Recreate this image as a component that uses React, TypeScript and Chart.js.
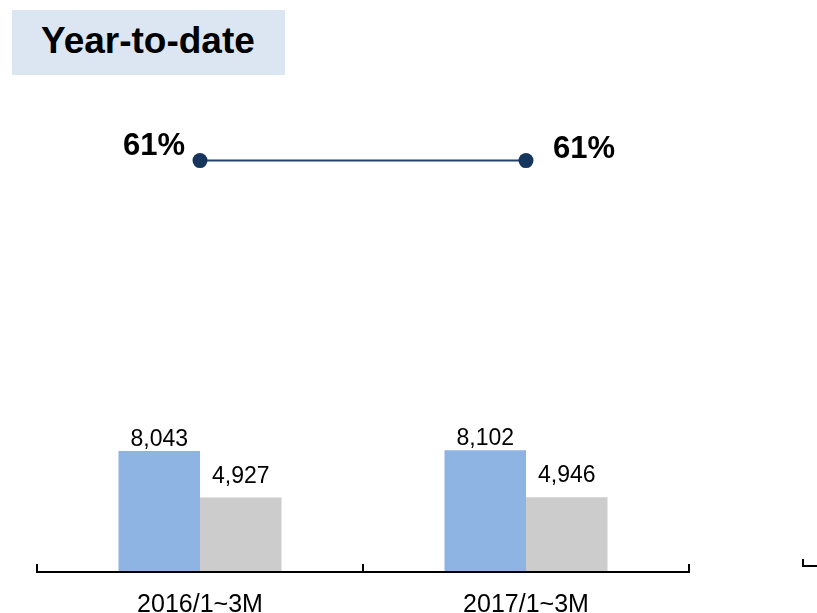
import React, { useEffect, useRef } from 'react';
import { Chart, registerables } from 'chart.js';

Chart.register(...registerables);

// ---- data ----
const categories = ['2016/1~3M', '2017/1~3M'];
const seriesA = [8043, 8102];
const seriesB = [4927, 4946];
const ratioValues = [61, 61];
const ratioLabels = ['61%', '61%'];
const titleText = 'Year-to-date';

const FONT = '"Liberation Sans", Arial, Helvetica, sans-serif';

const fmt = (v: number) => v.toLocaleString('en-US');

const customPlugin = {
  id: 'customLabels',
  afterDatasetsDraw(chart: any) {
    const ctx = chart.ctx;
    ctx.save();
    chart.data.datasets.forEach((ds: any, di: number) => {
      const meta = chart.getDatasetMeta(di);
      meta.data.forEach((el: any, i: number) => {
        if (ds.type === 'line') {
          ctx.font = `bold 31px ${FONT}`;
          ctx.fillStyle = '#000';
          ctx.textBaseline = 'alphabetic';
          if (i === 0) {
            ctx.textAlign = 'right';
            ctx.fillText(ratioLabels[i], el.x - 15, el.y - 6);
          } else {
            ctx.textAlign = 'left';
            ctx.fillText(ratioLabels[i], el.x + 27, el.y - 2.5);
          }
        } else {
          ctx.font = `23px ${FONT}`;
          ctx.fillStyle = '#000';
          ctx.textAlign = 'center';
          ctx.textBaseline = 'alphabetic';
          const off = ds.labelOffset ?? 5;
          ctx.fillText(fmt(ds.data[i]), el.x, el.y - off);
        }
      });
    });
    // axis line and upward ticks at category boundaries
    const xs = chart.scales.x;
    const n = chart.data.labels.length;
    const y = xs.top + 1;
    ctx.strokeStyle = '#000';
    ctx.lineWidth = 2;
    ctx.beginPath();
    ctx.moveTo(xs.left - 1, y);
    ctx.lineTo(xs.right + 1, y);
    ctx.stroke();
    for (let i = 0; i <= n; i++) {
      const x = xs.left + (i * (xs.right - xs.left)) / n;
      ctx.beginPath();
      ctx.moveTo(x, y);
      ctx.lineTo(x, y - 8);
      ctx.stroke();
    }
    ctx.restore();
  },
};

export default function App() {
  const ref = useRef<HTMLCanvasElement | null>(null);

  useEffect(() => {
    document.body.style.margin = '0';
    const canvas = ref.current;
    if (!canvas) return;
    const chart = new Chart(canvas, {
      type: 'bar',
      data: {
        labels: categories,
        datasets: [
          {
            type: 'line',
            label: 'Ratio',
            data: ratioValues,
            yAxisID: 'y1',
            borderColor: '#24416e',
            borderWidth: 2,
            pointRadius: 7.5,
            pointBackgroundColor: '#17365d',
            pointBorderColor: '#17365d',
            pointBorderWidth: 0,
            order: 0,
          } as any,
          {
            type: 'bar',
            label: 'A',
            data: seriesA,
            yAxisID: 'y',
            backgroundColor: '#8eb4e3',
            borderWidth: 0,
            categoryPercentage: 0.5,
            barPercentage: 1,
            labelOffset: 5,
            order: 1,
          } as any,
          {
            type: 'bar',
            label: 'B',
            data: seriesB,
            yAxisID: 'y',
            backgroundColor: '#cccccc',
            borderWidth: 0,
            categoryPercentage: 0.5,
            barPercentage: 1,
            labelOffset: 15,
            order: 1,
          } as any,
        ],
      },
      options: {
        responsive: false,
        animation: false,
        layout: { padding: { left: 37, right: 128, top: 94, bottom: 1 } },
        plugins: {
          legend: { display: false },
          tooltip: { enabled: false },
          title: { display: false },
        },
        scales: {
          x: {
            offset: true,
            grid: { display: false, drawTicks: false },
            border: { display: false },
            ticks: {
              color: '#000',
              font: { family: FONT, size: 25 },
              padding: 19,
              maxRotation: 0,
            },
          },
          y: {
            display: false,
            min: 0,
            max: 32000,
          },
          y1: {
            display: false,
            min: 0,
            max: 70.9,
          },
        },
      },
      plugins: [customPlugin],
    });
    return () => chart.destroy();
  }, []);

  return (
    <div style={{ position: 'relative', width: 817, height: 613, overflow: 'hidden', background: '#fff' }}>
      <canvas ref={ref} width={817} height={640} style={{ display: 'block', position: 'absolute', left: 0, top: 0 }} />
      <div
        style={{
          position: 'absolute',
          left: 12,
          top: 10,
          width: 273,
          height: 65,
          background: '#dce6f2',
          boxSizing: 'border-box',
          paddingLeft: 29,
          fontFamily: FONT,
          fontWeight: 'bold',
          fontSize: 37,
          lineHeight: '61px',
          color: '#000',
          whiteSpace: 'nowrap',
        }}
      >
        {titleText}
      </div>
      <div
        style={{
          position: 'absolute',
          left: 802,
          top: 559,
          width: 15,
          height: 8,
          boxSizing: 'border-box',
          borderLeft: '2px solid #000',
          borderBottom: '2px solid #000',
        }}
      />
    </div>
  );
}
